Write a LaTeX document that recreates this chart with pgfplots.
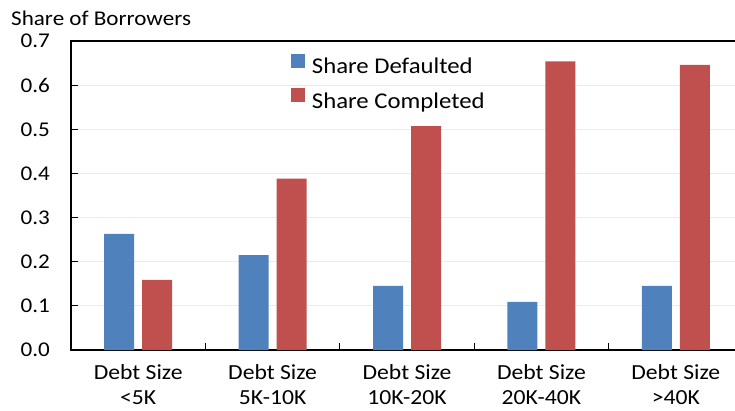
\documentclass[border=0pt]{standalone}
\usepackage{fontspec}
\setmainfont{Carlito}[FakeStretch=1.1]
\usepackage{pgfplots}
\pgfplotsset{compat=1.18}
\definecolor{cblue}{HTML}{4F81BD}
\definecolor{cred}{HTML}{C0504D}
\begin{document}
\fontsize{21}{26}\selectfont
\begin{tikzpicture}[x=1pt,y=1pt]
\clip (0,0) rectangle (735,-411);
\begin{axis}[
  at={(71pt,-350pt)}, anchor=south west,
  scale only axis, width=672pt, height=309pt,
  ybar=8pt, bar width=30pt,
  xmin=-0.5, xmax=4.5, ymin=0, ymax=0.7,
  xtick=data,
  xticklabels={{Debt Size\\<5K},{Debt Size\\5K-10K},{Debt Size\\10K-20K},{Debt Size\\20K-40K},{Debt Size\\>40K}},
  xticklabel style={align=center, font=\fontsize{21.5}{25}\selectfont, yshift=-7.5pt},
  major x tick style={draw=none},
  minor xtick={0.5,1.5,2.5,3.5},
  minor x tick style={black, line width=1pt},
  minor tick length=7pt,
  ytick={0,0.1,...,0.7},
  major tick length=7pt,
  tick align=inside,
  y tick style={black, line width=1pt},
  yticklabel style={/pgf/number format/fixed, /pgf/number format/precision=1, /pgf/number format/fixed zerofill, font=\fontsize{21}{26}\selectfont, xshift=-14pt},
  /pgf/number format/assume math mode=true,
  ymajorgrids, grid style={gray!15, line width=0.8pt},
  axis line style={black, line width=1.6pt},
  tick pos=left,
  legend style={draw=none, fill=none, at={(0.327,0.96)}, anchor=north west, font=\fontsize{22.5}{27}\selectfont, row sep=10pt, inner sep=0pt},
  legend cell align=left,
  legend image code/.code={\fill[#1] (0pt,-0.5pt) rectangle (14pt,13.5pt); \path (0pt,0pt) (19pt,0pt);},
]
\addplot[fill=cblue, draw=none] coordinates {(0,0.263) (1,0.215) (2,0.145) (3,0.109) (4,0.145)};
\addplot[fill=cred, draw=none] coordinates {(0,0.159) (1,0.388) (2,0.507) (3,0.654) (4,0.646)};
\legend{Share Defaulted, Share Completed}
\end{axis}
\node[anchor=base west, inner sep=0pt] at (11,-26) {Share of Borrowers};
\end{tikzpicture}
\end{document}
